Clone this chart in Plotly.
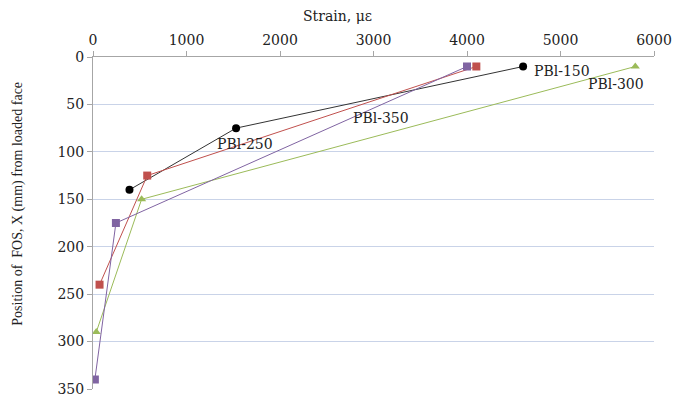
import plotly.graph_objects as go

# Strain measured along the fibre optic sensor for each specimen
series_names = ["PBl-150", "PBl-250", "PBl-300", "PBl-350"]
strain_pbl150 = [4600, 1530, 390]
pos_pbl150 = [10, 75, 140]
strain_pbl250 = [4100, 580, 70]
pos_pbl250 = [10, 125, 240]
strain_pbl300 = [5800, 520, 35]
pos_pbl300 = [10, 150, 290]
strain_pbl350 = [4000, 245, 20]
pos_pbl350 = [10, 175, 340]

# Label anchor points (strain, position) for the in-plot series labels
label_x = [5015, 1623, 5593, 3078]
label_y = [14.4, 91.9, 28.4, 64.1]

x_ticks = [0, 1000, 2000, 3000, 4000, 5000, 6000]
y_ticks = [0, 50, 100, 150, 200, 250, 300, 350]

FONT = "DejaVu Serif"

styles = [
    dict(color="#000000", line="#333333", symbol="circle", size=8),
    dict(color="#c0504d", line="#c0504d", symbol="square", size=8),
    dict(color="#9bbb59", line="#9bbb59", symbol="triangle-up", size=8),
    dict(color="#8064a2", line="#8064a2", symbol="square", size=8),
]
data = [
    (strain_pbl150, pos_pbl150),
    (strain_pbl250, pos_pbl250),
    (strain_pbl300, pos_pbl300),
    (strain_pbl350, pos_pbl350),
]

fig = go.Figure()
for name, (xs, ys), st in zip(series_names, data, styles):
    fig.add_trace(go.Scatter(
        x=xs, y=ys, name=name, mode="lines+markers",
        line=dict(color=st["line"], width=1),
        marker=dict(color=st["color"], symbol=st["symbol"], size=st["size"]),
    ))

for name, lx, ly in zip(series_names, label_x, label_y):
    fig.add_annotation(x=lx, y=ly, text=name, showarrow=False,
                       xanchor="center", yanchor="middle",
                       font=dict(family=FONT, size=14, color="#222222"))

fig.add_annotation(xref="paper", yref="paper", x=0.435, y=1.1226,
                   text="Strain, με", showarrow=False,
                   xanchor="center", yanchor="middle",
                   font=dict(family=FONT, size=14, color="#222222"))
fig.add_annotation(xref="paper", yref="paper", x=-0.1337, y=0.558,
                   text="Position of \u00a0FOS, X (mm) from loaded face",
                   textangle=-90, showarrow=False,
                   xanchor="center", yanchor="middle",
                   font=dict(family="Liberation Serif", size=14, color="#222222"))

fig.update_xaxes(
    side="top", range=[0, 6000], tickvals=x_ticks,
    showline=True, linecolor="#a6a6a6", linewidth=1,
    ticks="outside", ticklen=5, tickcolor="#a6a6a6",
    showgrid=False, zeroline=False,
    tickfont=dict(family=FONT, size=14, color="#222222"),
)
fig.update_yaxes(
    range=[350, 0], tickvals=y_ticks,
    showline=True, linecolor="#a6a6a6", linewidth=1,
    ticks="outside", ticklen=5, tickcolor="#a6a6a6",
    showgrid=True, gridcolor="#c9d3e8", gridwidth=1, zeroline=False,
    tickfont=dict(family=FONT, size=14, color="#222222"),
)

fig.update_layout(
    width=688, height=409,
    margin=dict(l=93, r=34, t=57, b=12),
    paper_bgcolor="white", plot_bgcolor="white",
    showlegend=False,
)

fig.write_html("out.html")
